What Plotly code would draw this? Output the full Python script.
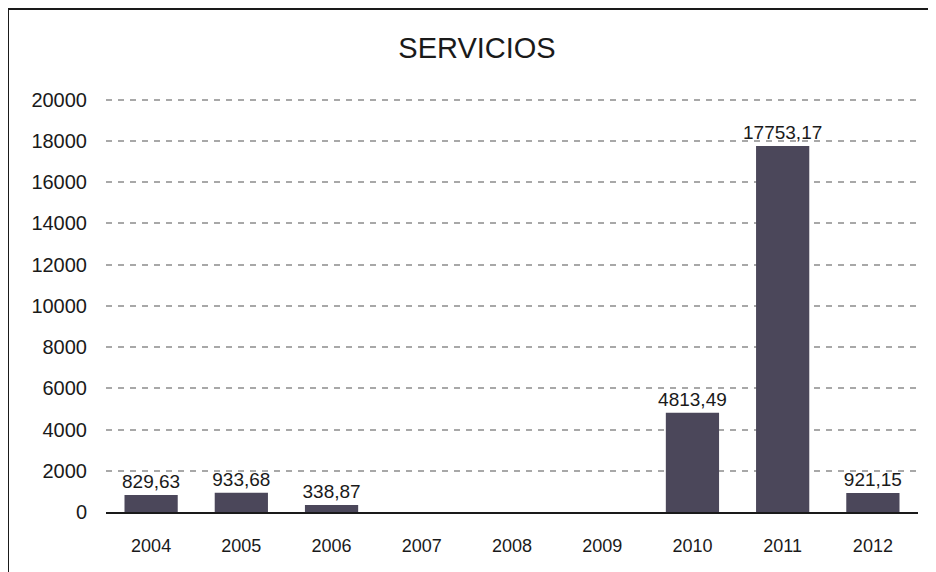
import plotly.graph_objects as go

years = ["2004", "2005", "2006", "2007", "2008", "2009", "2010", "2011", "2012"]
values = [829.63, 933.68, 338.87, 0, 0, 0, 4813.49, 17753.17, 921.15]
labels = ["829,63", "933,68", "338,87", "", "", "", "4813,49", "17753,17", "921,15"]
y_ticks = [0, 2000, 4000, 6000, 8000, 10000, 12000, 14000, 16000, 18000, 20000]

# page body has an 8px margin; figure sized to fit the window
W, H = 928, 564
ml, mr, mt, mb = 98, 18, 90, 60
pw, ph = W - ml - mr, H - mt - mb

fig = go.Figure(go.Bar(
    x=years, y=values, text=labels, textposition="outside", constraintext="none",
    textfont=dict(size=19, color="#1a1a1a", family="Liberation Sans, Arial"),
    marker=dict(color="#4b475a", line=dict(width=0)),
    cliponaxis=False, width=0.59,
))

fig.update_layout(
    width=W, height=H,
    margin=dict(l=ml, r=mr, t=mt, b=mb),
    paper_bgcolor="white", plot_bgcolor="white",
    font=dict(family="Liberation Sans, Arial", color="#1a1a1a"),
    title=dict(text="SERVICIOS", x=469 / W, xanchor="center", y=1 - 40 / H, yanchor="middle",
               font=dict(size=29, color="#1a1a1a")),
    showlegend=False,
    xaxis=dict(showline=True, linecolor="#1a1a1a", linewidth=2, ticks="",
               tickfont=dict(size=18), ticklabelstandoff=16, showgrid=False),
    yaxis=dict(range=[0, 20080], tickvals=y_ticks, tickformat="d", showgrid=True, gridcolor="#a8a8a8",
               gridwidth=2, griddash="6px,6px", zeroline=False, showline=False,
               tickfont=dict(size=20), ticklabelstandoff=18, ticks=""),
    shapes=[dict(type="rect", xref="paper", yref="paper",
                 x0=(0 - ml) / pw, x1=(924 - ml) / pw,
                 y0=(H - mb - 700) / ph, y1=(H - mb - 1) / ph,
                 line=dict(color="#1a1a1a", width=2), fillcolor="rgba(0,0,0,0)", layer="below")],
)

fig.write_html("out.html")
